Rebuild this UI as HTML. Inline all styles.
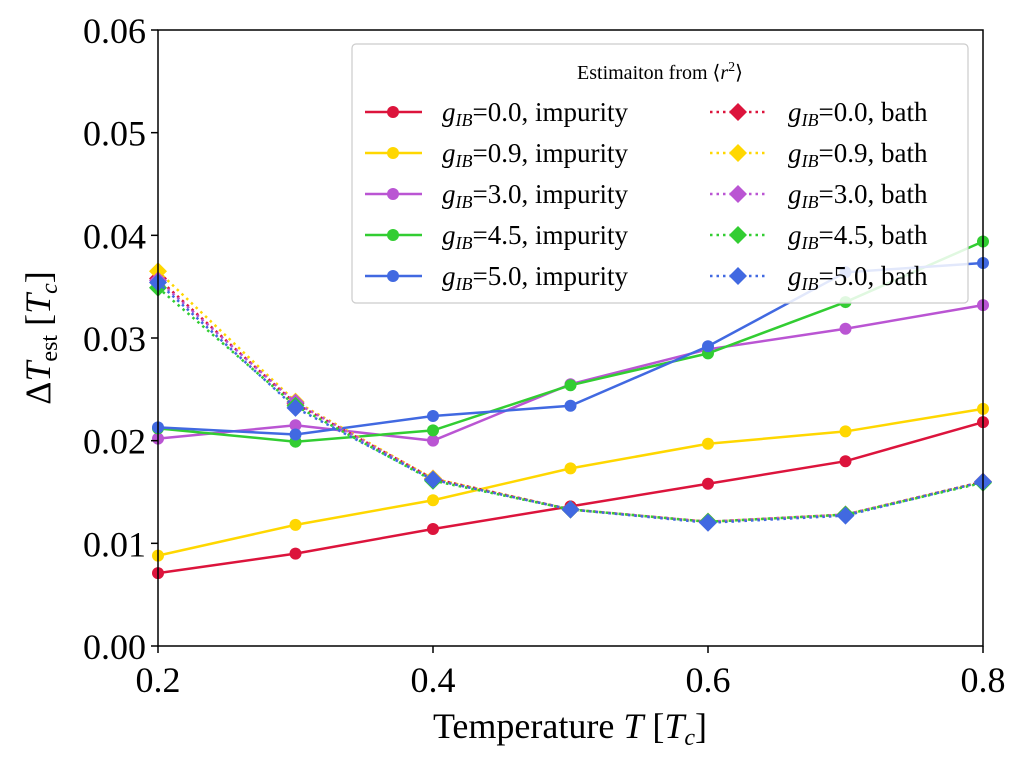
<!DOCTYPE html>
<html><head><meta charset="utf-8"><style>body{margin:0;background:#fff}svg{display:block}text{font-family:"Liberation Serif",serif}</style></head>
<body>
<svg id="chart" width="1026" height="769"></svg>
<script>
const temps=[0.2,0.3,0.4,0.5,0.6,0.7,0.8];
const gLabels=["0.0","0.9","3.0","4.5","5.0"];
const colors=["#dc143c","#ffd700","#ba55d3","#32cd32","#4169e1"];
const imp0=[0.0071,0.0090,0.0114,0.0136,0.0158,0.0180,0.0218];
const imp09=[0.0088,0.0118,0.0142,0.0173,0.0197,0.0209,0.0231];
const imp3=[0.0202,0.0215,0.0200,0.0255,0.0289,0.0309,0.0332];
const imp45=[0.0212,0.0199,0.0210,0.0254,0.0285,0.0335,0.0394];
const imp5=[0.0213,0.0206,0.0224,0.0234,0.0292,0.0364,0.0373];
const bath0=[0.0358,0.0236,0.0163,0.0133,0.0121,0.0128,0.0160];
const bath09=[0.0365,0.0238,0.0163,0.0133,0.0121,0.0128,0.0160];
const bath3=[0.0356,0.0237,0.0162,0.0133,0.0121,0.0128,0.0160];
const bath45=[0.0349,0.0234,0.0161,0.0133,0.0121,0.0128,0.0159];
const bath5=[0.0354,0.0232,0.0162,0.0133,0.0120,0.0127,0.0160];
const xTicks=[0.2,0.4,0.6,0.8];
const yTicks=[0,0.01,0.02,0.03,0.04,0.05,0.06];
const imps=[imp0,imp09,imp3,imp45,imp5], baths=[bath0,bath09,bath3,bath45,bath5];
const L=158,R=983,T=30,B=646;
const xs=v=>L+(v-0.2)/0.6*(R-L), ys=v=>B-v/0.06*(B-T);
const svg=document.getElementById('chart'),NS='http://www.w3.org/2000/svg';
function el(t,a,p){const e=document.createElementNS(NS,t);for(const k in a)e.setAttribute(k,a[k]);(p||svg).appendChild(e);return e;}
const plot=el('g',{'clip-path':'url(#c)'});
const cp=el('clipPath',{id:'c'});el('rect',{x:L-12,y:T-12,width:R-L+24,height:B-T+24},cp);
function diamond(x,y,s){return `M${x},${y-s}L${x+s},${y}L${x},${y+s}L${x-s},${y}Z`;}
imps.forEach((d,i)=>{
 const g=el('g',{},plot);
 el('polyline',{points:d.map((v,j)=>xs(temps[j])+','+ys(v)).join(' '),fill:'none',stroke:colors[i],'stroke-width':2.5},g);
 d.forEach((v,j)=>{const c=el('circle',{cx:xs(temps[j]),cy:ys(v),r:6,fill:colors[i]},g);});
});
baths.forEach((d,i)=>{
 const g=el('g',{},plot);
 el('polyline',{points:d.map((v,j)=>xs(temps[j])+','+ys(v)).join(' '),fill:'none',stroke:colors[i],'stroke-width':2.5,'stroke-dasharray':'2.5,4'},g);
 d.forEach((v,j)=>{const p=el('path',{d:diamond(xs(temps[j]),ys(v),9),fill:colors[i]},g);});
});
el('rect',{x:L,y:T,width:R-L,height:B-T,fill:'none',stroke:'#000','stroke-width':1.5});
xTicks.forEach(v=>{el('line',{x1:xs(v),x2:xs(v),y1:B,y2:B+7,stroke:'#000','stroke-width':1.5});const t=el('text',{x:xs(v),y:B+46,'font-size':36,'text-anchor':'middle'});t.textContent=v.toFixed(1);});
yTicks.forEach(v=>{el('line',{x1:L-7,x2:L,y1:ys(v),y2:ys(v),stroke:'#000','stroke-width':1.5});const t=el('text',{x:L-12,y:ys(v)+13,'font-size':36,'text-anchor':'end'});t.textContent=v.toFixed(2);});
const xl=el('text',{x:570,y:738,'font-size':36,'text-anchor':'middle'});xl.innerHTML='Temperature <tspan font-style="italic">T</tspan> [<tspan font-style="italic">T</tspan><tspan font-size="24" font-style="italic" dy="7">c</tspan><tspan dy="-7">]</tspan>';

const yl=el('text',{transform:'translate(50,338) rotate(-90)','font-size':36,'text-anchor':'middle'});yl.innerHTML='Δ<tspan font-style="italic">T</tspan><tspan font-size="24" dy="7">est</tspan><tspan dy="-7">  [</tspan><tspan font-style="italic">T</tspan><tspan font-size="24" font-style="italic" dy="7">c</tspan><tspan dy="-7">]</tspan>';

const lg=el('g',{});
el('rect',{x:352,y:44,width:616,height:259,rx:4,fill:'rgba(255,255,255,0.85)',stroke:'#ccc','stroke-width':1.2},lg);
const lt=el('text',{x:660,y:79,'font-size':20,'text-anchor':'middle'},lg);lt.innerHTML='Estimaiton from ⟨<tspan font-style="italic">r</tspan><tspan font-size="14" dy="-8">2</tspan><tspan dy="8">⟩</tspan>';
gLabels.forEach((g,i)=>{
 const y=112+41*i;
 const e1=el('g',{},lg);
 el('line',{x1:365,x2:422,y1:y,y2:y,stroke:colors[i],'stroke-width':2.5},e1);
 el('circle',{cx:393,cy:y,r:6,fill:colors[i]},e1);
 const t1=el('text',{x:442,y:y+9,'font-size':27},e1);t1.innerHTML='<tspan font-style="italic">g</tspan><tspan font-size="18" font-style="italic" dy="5">IB</tspan><tspan dy="-5">=</tspan><tspan>'+g+', impurity</tspan>';
 const e2=el('g',{},lg);
 el('line',{x1:710,x2:767,y1:y,y2:y,stroke:colors[i],'stroke-width':2.5,'stroke-dasharray':'2.5,4'},e2);
 el('path',{d:diamond(738,y,9),fill:colors[i]},e2);
 const t2=el('text',{x:788,y:y+9,'font-size':27},e2);t2.innerHTML='<tspan font-style="italic">g</tspan><tspan font-size="18" font-style="italic" dy="5">IB</tspan><tspan dy="-5">=</tspan><tspan>'+g+', bath</tspan>';
});
</script>
</body></html>
